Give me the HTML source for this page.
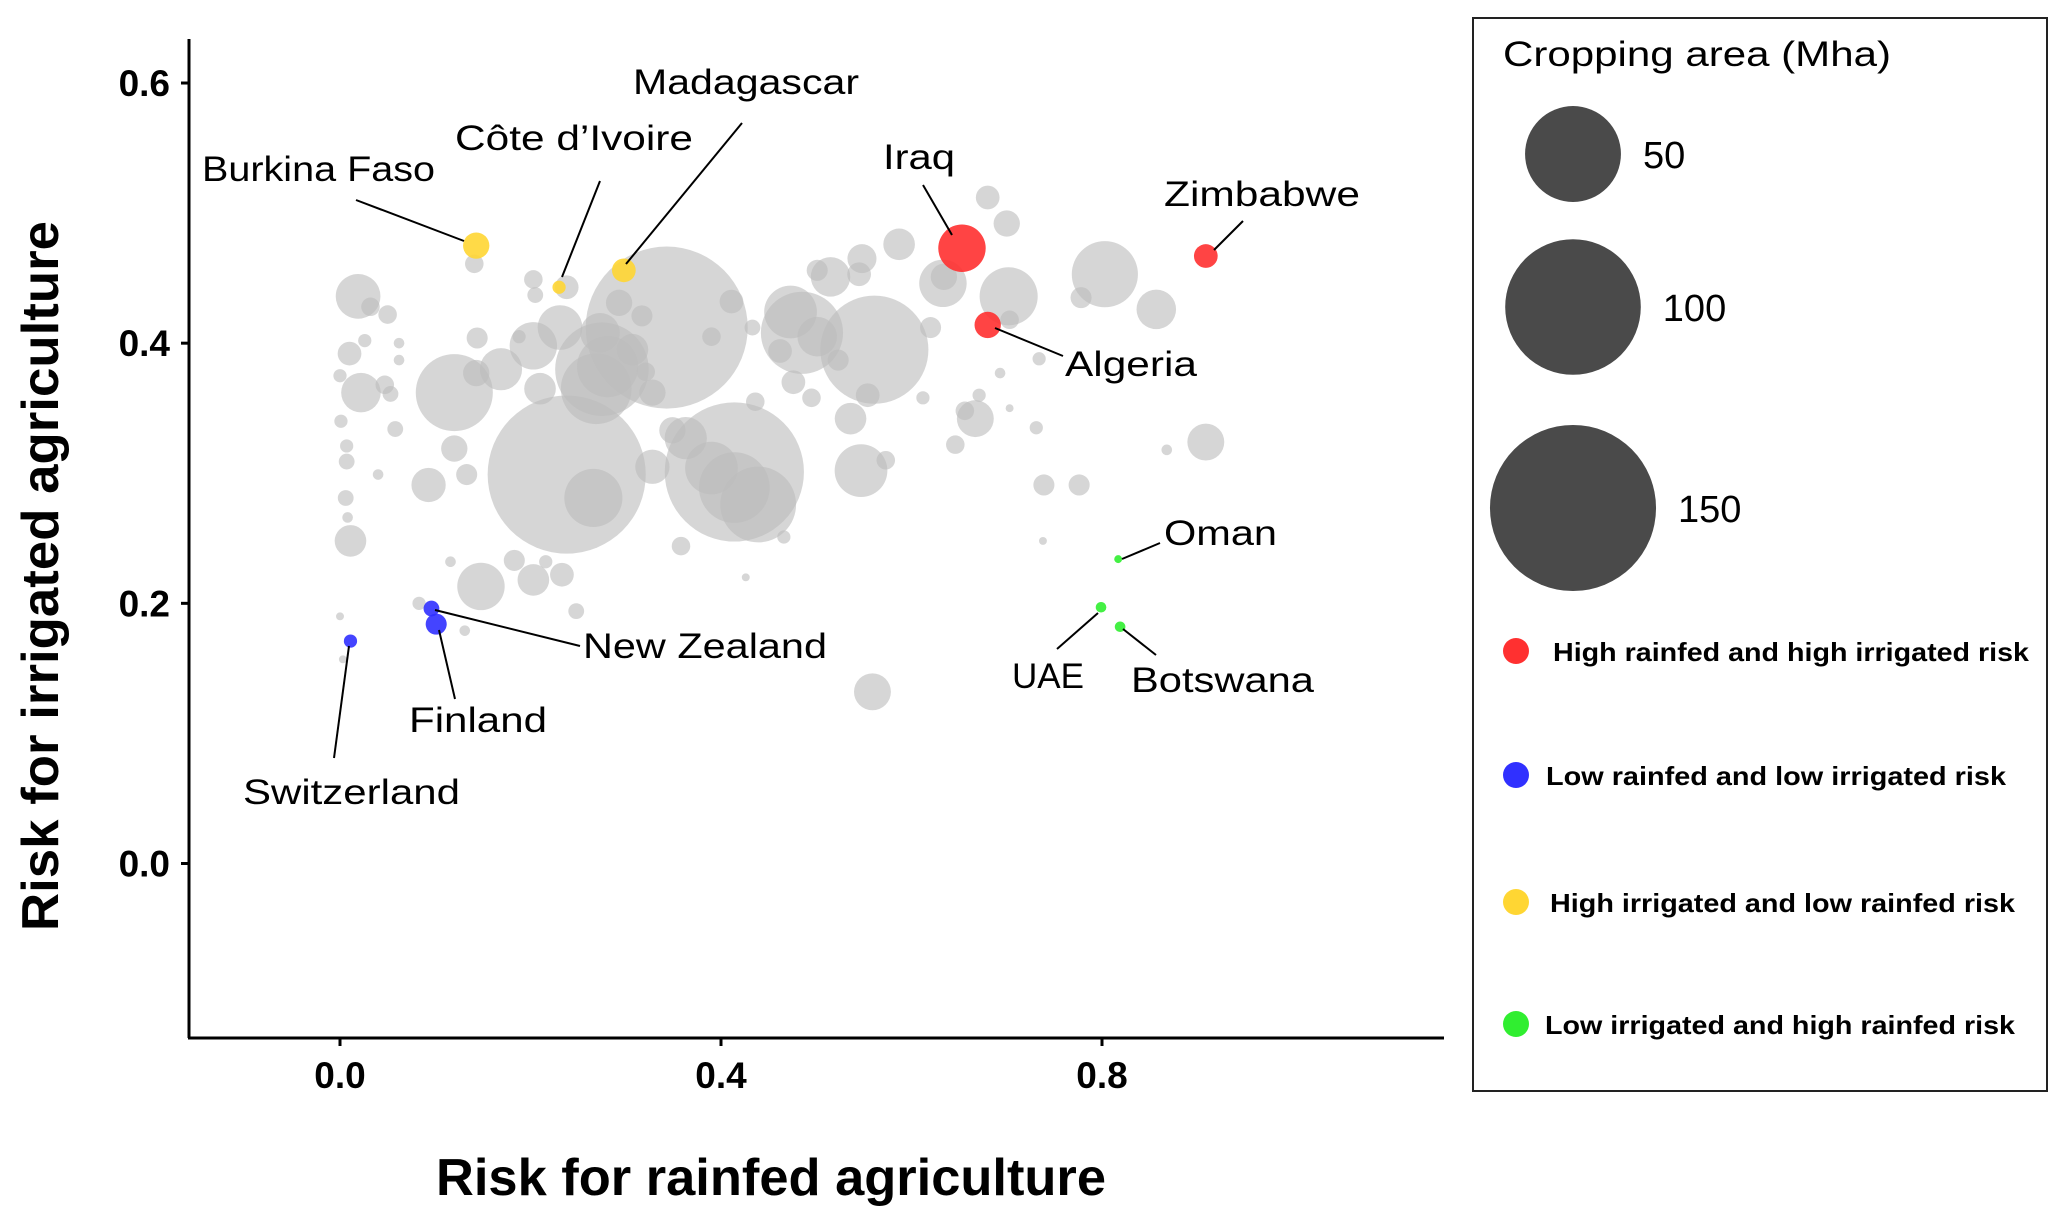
<!DOCTYPE html>
<html><head><meta charset="utf-8"><style>
html,body{margin:0;padding:0;background:#fff;}
svg{display:block;font-family:"Liberation Sans",sans-serif;}
</style></head><body>
<svg id="chart" width="2067" height="1224" viewBox="0 0 2067 1224">
<g id="plot"></g>
<g id="axes"></g>
<g id="ann"></g>
<g id="legend"></g>
</svg>
<script>
const grayX=[0.238,0.414,0.343,0.561,0.485,0.439,0.120,0.275,0.269,0.702,0.803,0.633,0.547,0.148,0.093,0.019,0.022,0.011,0.559,0.857,0.909,0.667,0.587,0.680,0.700,0.548,0.515,0.203,0.169,0.328,0.414,0.473,0.281,0.266,0.203,0.233,0.183,0.120,0.143,0.144,0.293,0.317,0.411,0.433,0.501,0.536,0.554,0.476,0.495,0.573,0.620,0.634,0.656,0.612,0.646,0.671,0.693,0.703,0.731,0.734,0.778,0.868,0.776,0.007,0.010,0.032,0.053,0.062,0.062,0.001,0.007,0.006,0.000,0.008,0.058,0.047,0.040,0.026,0.050,0.133,0.358,0.466,0.426,0.390,0.436,0.328,0.349,0.363,0.390,0.462,0.523,0.203,0.205,0.188,0.141,0.116,0.248,0.216,0.703,0.738,0.000,0.003,0.739,0.545,0.131,0.083,0.238,0.321,0.231,0.273,0.210,0.307,0.501];
const grayY=[0.299,0.301,0.412,0.395,0.408,0.276,0.362,0.380,0.365,0.436,0.453,0.446,0.302,0.213,0.291,0.436,0.362,0.248,0.132,0.426,0.324,0.342,0.476,0.512,0.492,0.465,0.451,0.398,0.380,0.305,0.289,0.424,0.382,0.281,0.218,0.222,0.233,0.319,0.377,0.404,0.431,0.421,0.432,0.412,0.456,0.342,0.360,0.370,0.358,0.310,0.412,0.451,0.348,0.358,0.322,0.360,0.377,0.350,0.335,0.388,0.435,0.318,0.291,0.309,0.392,0.428,0.361,0.400,0.387,0.340,0.321,0.281,0.375,0.266,0.334,0.368,0.299,0.402,0.422,0.299,0.244,0.251,0.220,0.405,0.355,0.362,0.333,0.327,0.304,0.394,0.387,0.449,0.437,0.405,0.461,0.232,0.194,0.232,0.418,0.248,0.190,0.157,0.291,0.453,0.179,0.200,0.443,0.378,0.412,0.408,0.365,0.395,0.405];
const grayArea=[40,31,42,18.7,10.8,9.2,9.5,14,8,5.4,7,3.6,4.45,3.6,1.88,3.2,2.5,1.6,2.18,2.5,2.18,2.18,1.6,0.9,1.11,1.35,2.5,3.6,2.85,1.88,8,4.45,6,5.4,1.6,0.9,0.71,1.11,1.11,0.71,1.11,0.71,0.9,0.4,0.71,1.6,0.9,0.9,0.55,0.55,0.71,1.11,0.55,0.28,0.55,0.28,0.18,0.1,0.28,0.28,0.71,0.18,0.71,0.4,0.9,0.55,0.4,0.18,0.18,0.28,0.28,0.4,0.28,0.18,0.4,0.55,0.18,0.28,0.55,0.71,0.55,0.28,0.1,0.55,0.55,1.11,1.11,2.85,4.45,0.9,0.71,0.55,0.4,0.28,0.55,0.18,0.4,0.28,0.55,0.1,0.1,0.1,0.71,0.9,0.18,0.28,0.9,0.55,3.2,2.5,1.6,1.6,2.5];
const hlNames=["Burkina Faso","Côte d’Ivoire","Madagascar","Iraq","Algeria","Zimbabwe","Oman","UAE","Botswana","New Zealand","Finland","Switzerland"];
const hlX=[0.143,0.230,0.298,0.653,0.680,0.909,0.817,0.799,0.819,0.096,0.101,0.011];
const hlY=[0.475,0.443,0.456,0.473,0.414,0.467,0.234,0.197,0.182,0.196,0.184,0.171];
const hlArea=[1.11,0.28,0.9,3.6,1.11,0.9,0.1,0.18,0.18,0.4,0.71,0.28];
const hlGroup=["yellow","yellow","yellow","red","red","red","green","green","green","blue","blue","blue"];
const xTicks=[0.0,0.4,0.8];
const yTicks=[0.0,0.2,0.4,0.6];
const legendSizes=[50,100,150];
const legendCats=["High rainfed and high irrigated risk","Low rainfed and low irrigated risk","High irrigated and low rainfed risk","Low irrigated and high rainfed risk"];
const legendColors=["red","blue","yellow","green"];

const NS="http://www.w3.org/2000/svg";
const COL={red:"#ff3030",blue:"#3030ff",yellow:"#ffd633",green:"#30ee30"};
function sx(v){return 340+(v-0)*952.5;}
function sy(v){return 863.5-v*1300.8;}
function sr(a){return 12.5*Math.sqrt(a);}
function mk(tag,attrs,parent){const e=document.createElementNS(NS,tag);for(const k in attrs)e.setAttribute(k,attrs[k]);parent.appendChild(e);return e;}
const plot=document.getElementById('plot'),axes=document.getElementById('axes'),ann=document.getElementById('ann'),leg=document.getElementById('legend');

grayX.forEach((x,i)=>{
  const c=mk('circle',{cx:sx(x),cy:sy(grayY[i]),r:sr(grayArea[i]),fill:'#bdbdbd','fill-opacity':0.62},plot);
  
  
});
hlX.forEach((x,i)=>{
  const c=mk('circle',{cx:sx(x),cy:sy(hlY[i]),r:sr(hlArea[i]),fill:COL[hlGroup[i]],'fill-opacity':0.9},plot);
  
  
});

mk('line',{x1:189,y1:39,x2:189,y2:1038,stroke:'#000','stroke-width':3},axes);
mk('line',{x1:188,y1:1038,x2:1444,y2:1038,stroke:'#000','stroke-width':3},axes);
yTicks.forEach(v=>{
  mk('line',{x1:181,y1:sy(v),x2:189,y2:sy(v),stroke:'#000','stroke-width':3},axes);
  const t=mk('text',{x:170,y:sy(v)+13,'text-anchor':'end','font-size':37,'font-weight':'bold'},axes);
  t.textContent=v.toFixed(1);
  
  
});
xTicks.forEach(v=>{
  mk('line',{x1:sx(v),y1:1038,x2:sx(v),y2:1046,stroke:'#000','stroke-width':3},axes);
  const t=mk('text',{x:sx(v),y:1088,'text-anchor':'middle','font-size':37,'font-weight':'bold'},axes);
  t.textContent=v.toFixed(1);
  
  
});
const xt=mk('text',{x:771,y:1195,'text-anchor':'middle','font-size':52,'font-weight':'bold',textLength:670,lengthAdjust:'spacingAndGlyphs'},axes);
xt.textContent='Risk for rainfed agriculture';


const yt=mk('text',{x:0,y:0,'text-anchor':'middle','font-size':52,'font-weight':'bold',textLength:710,lengthAdjust:'spacingAndGlyphs',transform:'translate(58,576) rotate(-90)'},axes);
yt.textContent='Risk for irrigated agriculture';



const labs=[
 ["Burkina Faso",202,169,356,200,464,241,233],
 ["Côte d’Ivoire",455,138,600,181,562,277,238],
 ["Madagascar",633,82,742,123,626,264,226],
 ["Iraq",883,157,923,185,952,235,72],
 ["Zimbabwe",1164,194,1243,221,1214,250,196],
 ["Algeria",1065,364,1063,356,995,328,132],
 ["Oman",1164,533,1160,543,1122,559,113],
 ["UAE",1012,676,1057,649,1098,613,72],
 ["Botswana",1131,680,1156,655,1123,629,183],
 ["New Zealand",583,646,580,646,435,610,244],
 ["Finland",409,720,455,699,439,630,138],
 ["Switzerland",243,792,334,758,349,646,217]];
labs.forEach(l=>{
  mk('line',{x1:l[3],y1:l[4],x2:l[5],y2:l[6],stroke:'#000','stroke-width':2},ann);
  const t=mk('text',{x:l[1],y:l[2]+12,'font-size':35,textLength:l[7],lengthAdjust:'spacingAndGlyphs'},ann);
  t.textContent=l[0];
  
  
});

mk('rect',{x:1473,y:18,width:574,height:1073,fill:'#fff',stroke:'#222','stroke-width':2},leg);
const lt=mk('text',{x:1503,y:66,'font-size':35,textLength:388,lengthAdjust:'spacingAndGlyphs'},leg);
lt.textContent='Cropping area (Mha)';


const lsCy=[154,307,508];
legendSizes.forEach((s,i)=>{
  const r=6.78*Math.sqrt(s);
  mk('circle',{cx:1573,cy:lsCy[i],r:r,fill:'#4a4a4a'},leg);
  const t=mk('text',{x:1573+r+22,y:lsCy[i]+14,'font-size':38},leg);
  t.textContent=String(s);
  
  
});
const lcCy=[651,775,902,1024];
const lcW=[476,460,465,470];
const lcX=[1553,1546,1550,1545];
legendCats.forEach((c,i)=>{
  mk('circle',{cx:1516,cy:lcCy[i],r:13,fill:COL[legendColors[i]]},leg);
  const t=mk('text',{x:lcX[i],y:lcCy[i]+10,'font-size':26,'font-weight':'bold',textLength:lcW[i],lengthAdjust:'spacingAndGlyphs'},leg);
  t.textContent=c;
  
  
});
</script>
</body></html>
